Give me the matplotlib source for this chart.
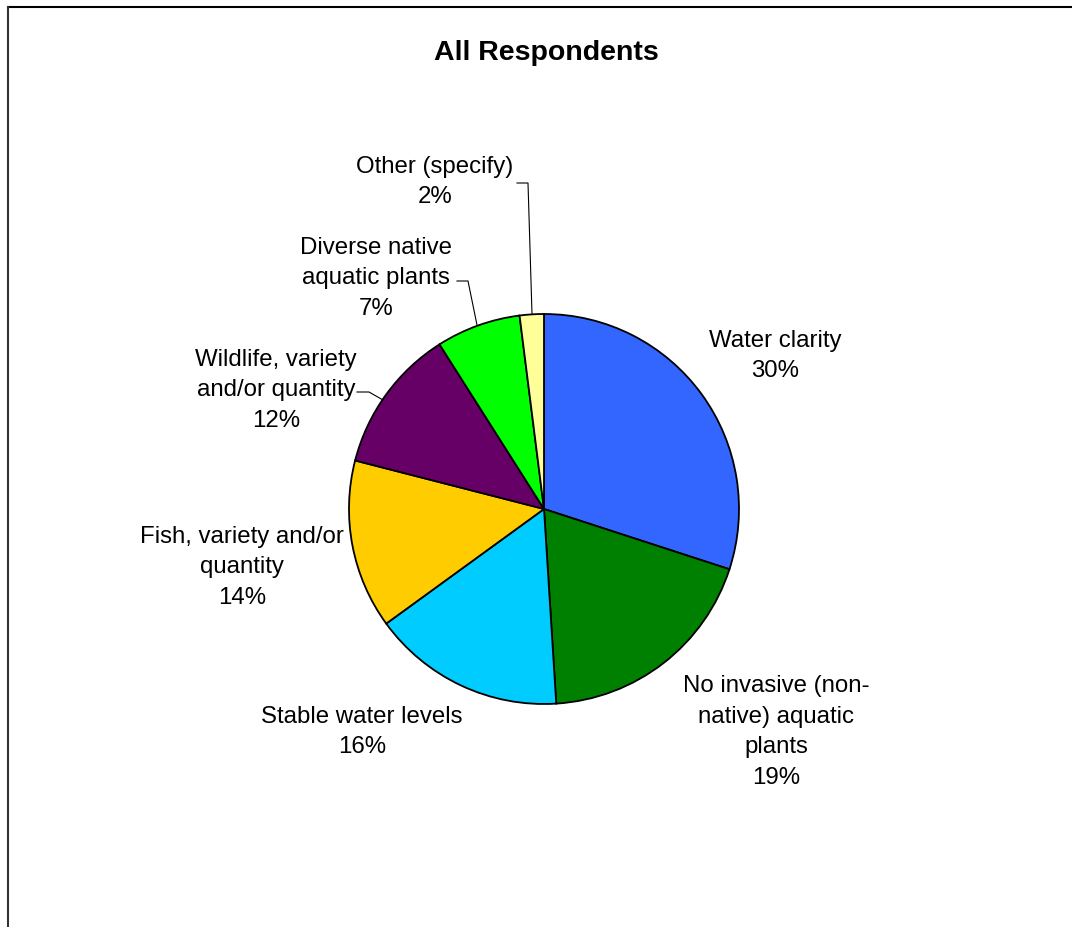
import matplotlib
matplotlib.use("Agg")
import matplotlib.pyplot as plt
from matplotlib.lines import Line2D

categories = ["Water clarity", "No invasive (non-\nnative) aquatic\nplants", "Stable water levels",
              "Fish, variety and/or\nquantity", "Wildlife, variety\nand/or quantity",
              "Diverse native\naquatic plants", "Other (specify)"]
values = [30, 19, 16, 14, 12, 7, 2]
colors = ["#3366FF", "#008000", "#00CCFF", "#FFCC00", "#660066", "#00FF00", "#FFFF99"]

W, H = 1072, 927
fig = plt.figure(figsize=(W / 100, H / 100), dpi=100)
ax = fig.add_axes([0, 0, 1, 1])

def Y(py):
    return H - py

cx, cy, r = 544, 509, 195
ax.pie(values, colors=colors, startangle=90, counterclock=False, center=(cx, Y(cy)), radius=r,
       wedgeprops=dict(edgecolor="black", linewidth=1.3), frame=True)
ax.set_xlim(0, W)
ax.set_ylim(0, H)
ax.set_aspect("equal")
ax.axis("off")

# frame border (top and left only visible)
fig.lines.append(Line2D([8 / W, 1.0], [Y(7) / H, Y(7) / H], transform=fig.transFigure,
                        color="black", linewidth=1.5))
fig.lines.append(Line2D([8 / W, 8 / W], [0, Y(7) / H], transform=fig.transFigure,
                        color="#333333", linewidth=1.5))

font = "Liberation Sans"
ax.text(546, Y(53), "All Respondents", ha="center", va="center", fontsize=20.5, fontweight="bold",
        family=font)

label_pos = [(775, 356), (776, 732), (362, 732), (242, 567), (276, 390), (376, 278), (435, 182)]
for cat, v, (px, py) in zip(categories, values, label_pos):
    ax.text(px, Y(py), f"{cat}\n{v}%", ha="center", va="center", fontsize=17.3, family=font,
            linespacing=1.5)

leaders = [
    [(517, 183), (528, 183), (532, 314)],
    [(457, 281), (468, 281), (477, 325)],
    [(357, 392), (369, 392), (383, 400)],
]
for pts in leaders:
    xs = [p[0] for p in pts]
    ys = [Y(p[1]) for p in pts]
    ax.plot(xs, ys, color="black", linewidth=0.8)

fig.savefig("out.png", dpi=100)
